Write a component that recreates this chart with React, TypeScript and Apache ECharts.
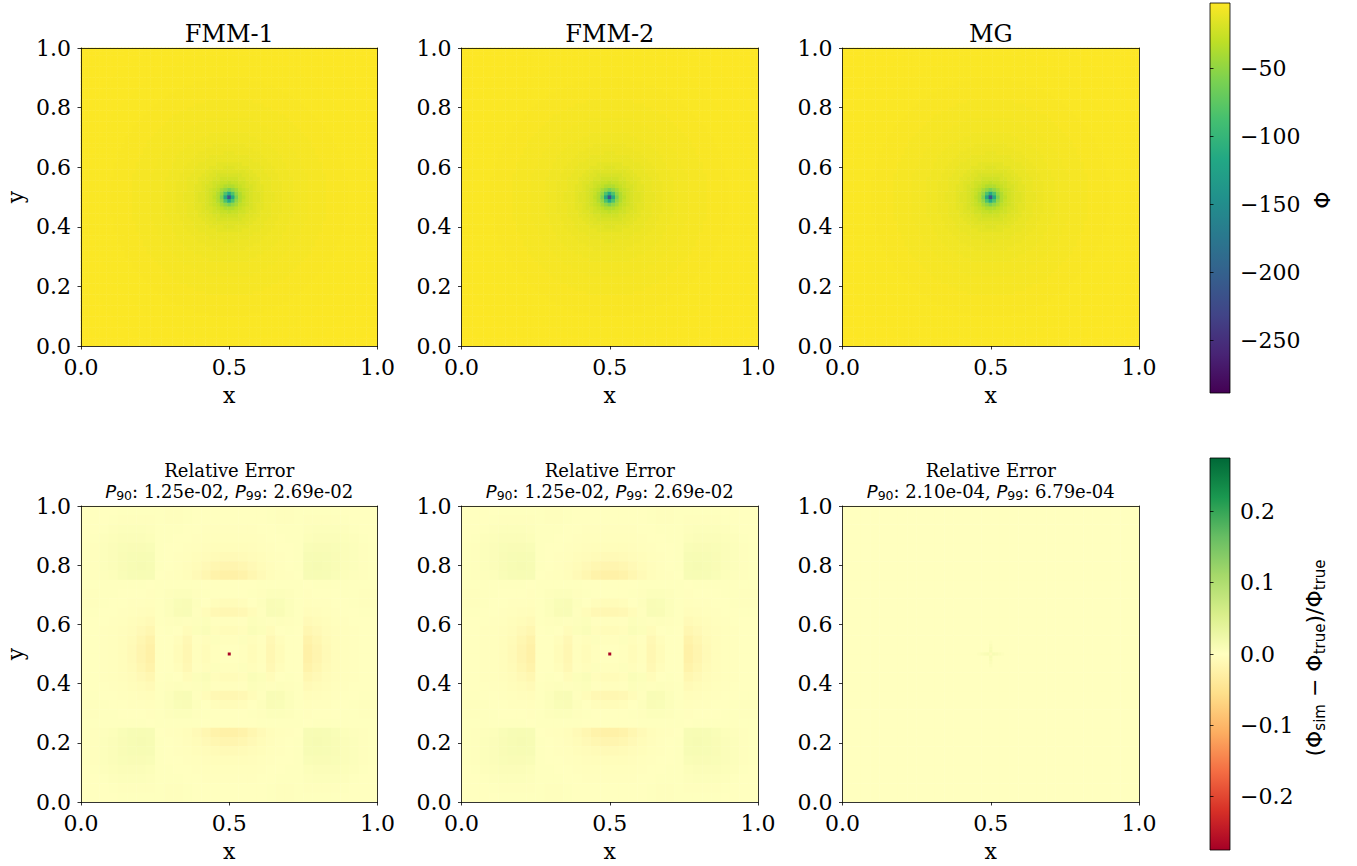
import React, { useEffect, useRef } from 'react';
import * as echarts from 'echarts';

// ---------- data ----------
const topTitles = ['FMM-1', 'FMM-2', 'MG'];
const errP90 = ['1.25e-02', '1.25e-02', '2.10e-04'];
const errP99 = ['2.69e-02', '2.69e-02', '6.79e-04'];
const xTickStep = 0.5;
const yTickStep = 0.2;
const phiTicks = [-250, -200, -150, -100, -50];
const errTicks = [-0.2, -0.1, 0, 0.1, 0.2];
const phiRange = [-289, -2];
const errRange = [-0.275, 0.275];

// radial profile of the potential around the source at (0.5, 0.5): ring outer radius -> Φ
const phiRingRadius = [0.004, 0.014, 0.02, 0.026, 0.03, 0.036, 0.042, 0.05, 0.06, 0.07, 0.085, 0.1, 0.12, 0.15, 0.18, 0.22, 0.27, 0.33, 0.4, 0.48, 0.56, 0.65, 0.8];
const phiRingValue = [-215, -115, -82, -60, -50, -41, -36, -30, -26, -22, -18.5, -15.5, -13, -10.5, -8.8, -7.3, -6, -5, -4, -3.3, -2.8, -2.4, -2.1];
const phiCellsPerSide = 81;

// FMM relative error, upper-left quadrant (rows: y from 1 down to 0.5, cols: x from 0 to 0.5), in units of 1e-3
const fmmErrQuadrant = [
  [0, 0, 0, 0, 1, 1, 1, 1, 1, 2, 2, 1, 0, 0, 0, 0],
  [0, 0, 0, 1, 2, 2, 2, 2, 1, 2, 2, 1, 0, 0, 0, 0],
  [0, 0, 1, 3, 4, 4, 4, 3, 1, 1, 1, 0, 0, -1, -1, -1],
  [0, 1, 3, 5, 6, 6, 6, 5, 1, 1, 0, 0, -1, -2, -2, -2],
  [1, 2, 4, 6, 8, 9, 9, 8, 1, 0, 0, -1, -2, -3, -4, -4],
  [1, 2, 4, 6, 9, 11, 12, 11, 1, 0, -1, -2, -4, -5, -7, -8],
  [1, 2, 4, 6, 9, 12, 13, 12, 1, 0, -1, -3, -6, -10, -15, -17],
  [1, 2, 3, 5, 8, 11, 12, 11, 0, -1, -2, -4, -8, -15, -22, -25],
  [1, 1, 1, 1, 1, 1, 1, 0, 1, 1, 1, 1, 1, 0, 0, 0],
  [2, 2, 1, 1, 0, 0, 0, -1, 1, 3, 4, 4, 2, 1, 0, 0],
  [2, 2, 1, 0, 0, -1, -1, -2, 1, 4, 8, 9, 3, 0, -4, -6],
  [1, 1, 0, 0, -1, -2, -3, -4, 1, 4, 9, 10, 2, -6, -12, -14],
  [0, 0, 0, -1, -2, -4, -6, -8, 1, 2, 3, 2, 3, 5, -1, -2],
  [0, 0, -1, -2, -3, -5, -10, -15, 0, 1, 0, -6, 5, 7, -4, -6],
  [0, 0, -1, -2, -4, -7, -15, -22, 0, 0, -4, -12, -1, -4, 3, -2],
  [0, 0, -1, -2, -4, -8, -17, -25, 0, 0, -6, -14, -2, -6, -2, 0],
];
const errUnit = 1e-3;
const mgErrBackground = 0.0003;
const mgCellsPerSide = 32;
// tiny red spot at the source for the FMM runs: [x, y, error]
const fmmCenterSpot = [[0.5, 0.5, -0.27]];
// faint cross at the source for MG: [x, y, error]
const mgCross = [
  [0.5, 0.5, -0.006],
  [0.49, 0.5, 0.012], [0.51, 0.5, 0.012], [0.5, 0.49, 0.012], [0.5, 0.51, 0.012],
  [0.48, 0.5, 0.009], [0.52, 0.5, 0.009], [0.5, 0.48, 0.009], [0.5, 0.52, 0.009],
  [0.47, 0.5, 0.006], [0.53, 0.5, 0.006], [0.5, 0.47, 0.006], [0.5, 0.53, 0.006],
  [0.46, 0.5, 0.003], [0.54, 0.5, 0.003], [0.5, 0.46, 0.003], [0.5, 0.54, 0.003],
];

// ---------- styling ----------
const VIRIDIS = ['#440154', '#482475', '#414487', '#355f8d', '#2a788e', '#21918c', '#22a884', '#44bf70', '#7ad151', '#bddf26', '#fde725'];
const RDYLGN = ['#a50026', '#d73027', '#f46d43', '#fdae61', '#fee08b', '#ffffbf', '#d9ef8b', '#a6d96a', '#66bd63', '#1a9850', '#006837'];
const SERIF = 'DejaVu Serif';
const SANS = 'DejaVu Sans';
const PANEL_LEFT = [81, 461.5, 842.5];
const PANEL_W = 296.5;
const ROW_TOP = [48, 506];
const ROW_H = [298, 296];
const CB_LEFT = 1210;
const CB_W = 20;
const CB_TOP = [3, 458];
const CB_H = [390, 392];

const line = { color: '#000', width: 0.8 };
const minusFix = (s: string) => s.replace('-', '\u2212');

function cats(n: number) {
  return Array.from({ length: n }, (_, i) => String(i));
}

function phiCells(radius: number[], value: number[], n: number) {
  const cells: number[][] = [];
  for (let i = 0; i < n; i++) {
    for (let j = 0; j < n; j++) {
      const d = Math.hypot((i + 0.5) / n - 0.5, (j + 0.5) / n - 0.5);
      let k = radius.findIndex((r) => d <= r);
      if (k < 0) k = radius.length - 1;
      cells.push([i, j, value[k]]);
    }
  }
  return cells;
}

function quadrantCells(q: number[][], unit: number) {
  const h = q.length;
  const n = 2 * h;
  const cells: number[][] = [];
  for (let r = 0; r < n; r++) {
    for (let c = 0; c < n; c++) {
      const qr = r < h ? r : n - 1 - r;
      const qc = c < h ? c : n - 1 - c;
      cells.push([c, n - 1 - r, q[qr][qc] * unit]);
    }
  }
  return cells;
}

function uniformCells(n: number, v: number) {
  const cells: number[][] = [];
  for (let c = 0; c < n; c++) for (let r = 0; r < n; r++) cells.push([c, r, v]);
  return cells;
}

function buildOption() {
  const grid: any[] = [];
  const xAxis: any[] = [];
  const yAxis: any[] = [];
  const series: any[] = [];
  const graphic: any[] = [];

  const phiData = phiCells(phiRingRadius, phiRingValue, phiCellsPerSide);
  const fmmData = quadrantCells(fmmErrQuadrant, errUnit);
  const mgData = uniformCells(mgCellsPerSide, mgErrBackground);
  const fmmN = fmmErrQuadrant.length * 2;

  for (let p = 0; p < 6; p++) {
    const row = p < 3 ? 0 : 1;
    const col = p % 3;
    const n = row === 0 ? phiCellsPerSide : col === 2 ? mgCellsPerSide : fmmN;
    grid.push({
      left: PANEL_LEFT[col], top: ROW_TOP[row], width: PANEL_W, height: ROW_H[row],
      show: false, containLabel: false, outerBoundsMode: 'none',
    });
    xAxis.push({
      type: 'value', gridIndex: p, min: 0, max: 1, interval: xTickStep, position: 'bottom', z: 10,
      axisLine: { show: true, onZero: false, lineStyle: line },
      axisTick: { show: true, length: 3.5, lineStyle: line },
      axisLabel: {
        show: true, fontFamily: SERIF, fontSize: 22, color: '#000', margin: 10,
        showMinLabel: true, showMaxLabel: true, formatter: (v: number) => v.toFixed(1),
      },
      splitLine: { show: false },
      name: 'x', nameLocation: 'middle', nameGap: 38, nameMoveOverlap: false,
      nameTextStyle: { fontFamily: SERIF, fontSize: 22, color: '#000' },
    });
    xAxis.push({
      type: 'category', gridIndex: p, position: 'top', data: cats(n), boundaryGap: true, z: 10,
      axisLine: { show: true, onZero: false, lineStyle: line },
      axisTick: { show: false }, axisLabel: { show: false }, splitLine: { show: false },
    });
    yAxis.push({
      type: 'value', gridIndex: p, min: 0, max: 1, interval: yTickStep, position: 'left', z: 10,
      axisLine: { show: true, onZero: false, lineStyle: line },
      axisTick: { show: true, length: 3.5, lineStyle: line },
      axisLabel: {
        show: true, fontFamily: SERIF, fontSize: 22, color: '#000', margin: 10,
        showMinLabel: true, showMaxLabel: true, formatter: (v: number) => v.toFixed(1),
      },
      splitLine: { show: false },
      name: col === 0 ? 'y' : '', nameLocation: 'middle', nameGap: 55, nameRotate: 90, nameMoveOverlap: false,
      nameTextStyle: { fontFamily: SERIF, fontSize: 22, color: '#000' },
    });
    yAxis.push({
      type: 'category', gridIndex: p, position: 'right', data: cats(n), boundaryGap: true, z: 10,
      axisLine: { show: true, onZero: false, lineStyle: line },
      axisTick: { show: false }, axisLabel: { show: false }, splitLine: { show: false },
    });
  }

  // heatmaps: 0..2 potential, 3..5 error
  for (let p = 0; p < 6; p++) {
    const row = p < 3 ? 0 : 1;
    const col = p % 3;
    const data = row === 0 ? phiData : col === 2 ? mgData : fmmData;
    series.push({
      type: 'heatmap', name: row === 0 ? topTitles[col] : 'err ' + topTitles[col],
      xAxisIndex: 2 * p + 1, yAxisIndex: 2 * p + 1, data,
      progressive: 0, silent: true, itemStyle: { borderWidth: 0 }, emphasis: { disabled: true },
    });
  }
  // source markers (6, 7: FMM spots; 8: MG cross)
  [3, 4].forEach((p) => {
    series.push({
      type: 'scatter', xAxisIndex: 2 * p, yAxisIndex: 2 * p, data: fmmCenterSpot,
      symbol: 'rect', symbolSize: 3, z: 5, silent: true, itemStyle: { opacity: 1 },
    });
  });
  series.push({
    type: 'scatter', xAxisIndex: 10, yAxisIndex: 10, data: mgCross,
    symbol: 'rect', symbolSize: 3.2, z: 5, silent: true, itemStyle: { opacity: 1 },
  });

  // colorbars
  const cbDefs = [
    { range: phiRange, ticks: phiTicks, colors: VIRIDIS, fmt: (v: number) => minusFix(String(v)) },
    { range: errRange, ticks: errTicks, colors: RDYLGN, fmt: (v: number) => minusFix(v.toFixed(1)) },
  ];
  cbDefs.forEach((cb, k) => {
    const gi = 6 + k;
    const stops = cb.colors.map((c, i) => ({ offset: 1 - i / (cb.colors.length - 1), color: c })).reverse();
    grid.push({
      left: CB_LEFT, top: CB_TOP[k], width: CB_W, height: CB_H[k], show: true,
      backgroundColor: new echarts.graphic.LinearGradient(0, 0, 0, 1, stops),
      borderColor: '#000', borderWidth: 0.8, containLabel: false, outerBoundsMode: 'none',
    });
    xAxis.push({ type: 'value', gridIndex: gi, min: 0, max: 1, show: false });
    yAxis.push({
      type: 'value', gridIndex: gi, min: cb.range[0], max: cb.range[1], position: 'right', z: 10,
      axisLine: { show: false },
      axisTick: { show: true, length: 3.5, lineStyle: line, customValues: cb.ticks },
      axisLabel: {
        show: true, customValues: cb.ticks, fontFamily: SERIF, fontSize: 22, color: '#000', margin: 10,
        formatter: cb.fmt,
      },
      splitLine: { show: false },
    });
  });

  // titles
  for (let col = 0; col < 3; col++) {
    const cx = PANEL_LEFT[col] + PANEL_W / 2;
    graphic.push({
      type: 'text', x: cx, y: 34, silent: true,
      style: { text: topTitles[col], textAlign: 'center', textVerticalAlign: 'middle', fontFamily: SERIF, fontSize: 24, fill: '#000' },
    });
    graphic.push({
      type: 'text', x: cx, y: 470, silent: true,
      style: { text: 'Relative Error', textAlign: 'center', textVerticalAlign: 'middle', fontFamily: SERIF, fontSize: 18, fill: '#000' },
    });
    graphic.push({
      type: 'text', x: cx, y: 491, silent: true,
      style: {
        text: `{P|P}{s|90}{t|: ${errP90[col]}, }{P|P}{s|99}{t|: ${errP99[col]}}`,
        textAlign: 'center', textVerticalAlign: 'middle', fill: '#000',
        rich: {
          P: { fontFamily: SANS, fontStyle: 'italic', fontSize: 18, lineHeight: 22, fill: '#000' },
          s: { fontFamily: SANS, fontSize: 12.5, lineHeight: 13, verticalAlign: 'bottom', fill: '#000' },
          t: { fontFamily: SERIF, fontSize: 18, lineHeight: 22, fill: '#000' },
        },
      },
    });
  }
  // colorbar labels
  graphic.push({
    type: 'text', x: 1322, y: 200, rotation: Math.PI / 2, silent: true,
    style: { text: 'Φ', textAlign: 'center', textVerticalAlign: 'middle', fontFamily: SANS, fontSize: 22, fill: '#000' },
  });
  graphic.push({
    type: 'text', x: 1314, y: 658, rotation: Math.PI / 2, silent: true,
    style: {
      text: '{p|(}{f|Φ}{s|sim}{p| \u2212 }{f|Φ}{s|true}{p|)/}{f|Φ}{s|true}',
      textAlign: 'center', textVerticalAlign: 'middle', fill: '#000',
      rich: {
        p: { fontFamily: SANS, fontSize: 22, lineHeight: 26, fill: '#000' },
        f: { fontFamily: SANS, fontSize: 22, lineHeight: 26, fill: '#000' },
        s: { fontFamily: SANS, fontSize: 15, lineHeight: 13, verticalAlign: 'bottom', fill: '#000' },
      },
    },
  });

  return {
    animation: false,
    backgroundColor: '#fff',
    grid, xAxis, yAxis, series, graphic,
    visualMap: [
      { type: 'continuous', show: false, min: phiRange[0], max: phiRange[1], dimension: 2, seriesIndex: [0, 1, 2], inRange: { color: VIRIDIS } },
      { type: 'continuous', show: false, min: errRange[0], max: errRange[1], dimension: 2, seriesIndex: [3, 4, 5, 6, 7, 8], inRange: { color: RDYLGN } },
    ],
  };
}

export default function App() {
  const ref = useRef<HTMLDivElement>(null);
  useEffect(() => {
    document.body.style.margin = '0';
    if (!ref.current) return;
    const chart = echarts.init(ref.current, undefined, { renderer: 'svg', width: 1357, height: 866 });
    chart.setOption(buildOption() as any);
    return () => chart.dispose();
  }, []);
  return (
    <div
      ref={ref}
      style={{ position: 'absolute', left: 0, top: 0, width: 1357, height: 866, background: '#fff' }}
    />
  );
}
